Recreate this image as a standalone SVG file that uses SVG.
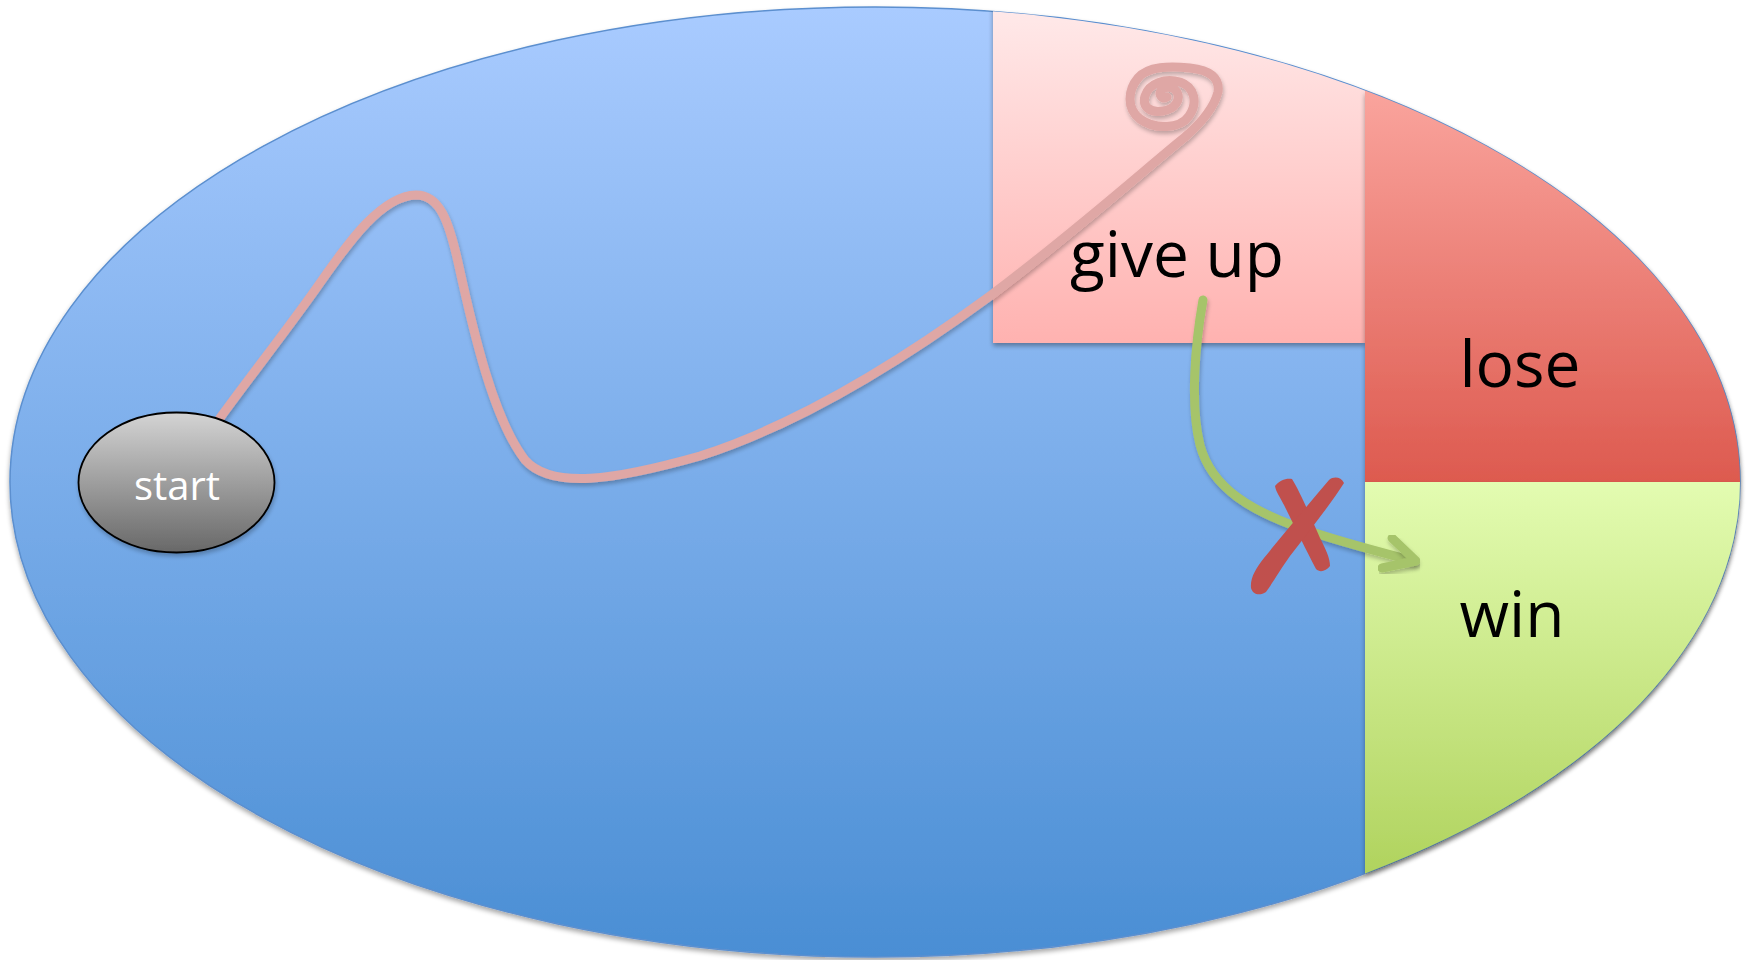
<svg xmlns="http://www.w3.org/2000/svg" width="1752" height="960" viewBox="0 0 1752 960">
  <style>
    .label { font-family: "Open Sans", "Liberation Sans", sans-serif; fill: #000000; text-anchor: middle; font-size: 64px; }
    .start-label { font-family: "Open Sans", "Liberation Sans", sans-serif; fill: #ffffff; text-anchor: middle; font-size: 40px; }
    .path-pink { fill: none; stroke: #dfa7a5; stroke-width: 9; stroke-linecap: round; stroke-linejoin: round; }
    .path-green { fill: none; stroke: #a6c46a; stroke-width: 9; stroke-linecap: round; stroke-linejoin: round; }
    .cross { fill: #c0504d; }
  </style>
  <defs>
    <linearGradient id="gBlue" x1="0" y1="0" x2="0" y2="1">
      <stop offset="0" stop-color="#a9cbff"/>
      <stop offset="1" stop-color="#4a8ed4"/>
    </linearGradient>
    <linearGradient id="gPink" gradientUnits="userSpaceOnUse" x1="0" y1="10" x2="0" y2="343">
      <stop offset="0" stop-color="#ffe9e9"/>
      <stop offset="1" stop-color="#ffb2b0"/>
    </linearGradient>
    <linearGradient id="gLose" gradientUnits="userSpaceOnUse" x1="0" y1="90" x2="0" y2="482">
      <stop offset="0" stop-color="#faa49d"/>
      <stop offset="1" stop-color="#dd5a4f"/>
    </linearGradient>
    <linearGradient id="gWin" gradientUnits="userSpaceOnUse" x1="0" y1="482" x2="0" y2="874">
      <stop offset="0" stop-color="#e3fcb1"/>
      <stop offset="1" stop-color="#b0d35e"/>
    </linearGradient>
    <linearGradient id="gStart" x1="0" y1="0" x2="0" y2="1">
      <stop offset="0" stop-color="#d4d4d4"/>
      <stop offset="1" stop-color="#686868"/>
    </linearGradient>
    <clipPath id="clipMain">
      <ellipse cx="875" cy="482" rx="865" ry="475"/>
    </clipPath>
    <filter id="shadow" x="-5%" y="-5%" width="110%" height="115%">
      <feGaussianBlur in="SourceAlpha" stdDeviation="2.5"/>
      <feOffset dx="0" dy="3" result="b"/>
      <feComponentTransfer in="b" result="s">
        <feFuncA type="linear" slope="0.35"/>
      </feComponentTransfer>
      <feMerge>
        <feMergeNode in="s"/>
        <feMergeNode in="SourceGraphic"/>
      </feMerge>
    </filter>
    <filter id="softShadow" x="-10%" y="-10%" width="120%" height="130%">
      <feGaussianBlur in="SourceAlpha" stdDeviation="2"/>
      <feOffset dx="1" dy="3" result="b"/>
      <feComponentTransfer in="b" result="s">
        <feFuncA type="linear" slope="0.25"/>
      </feComponentTransfer>
      <feMerge>
        <feMergeNode in="s"/>
        <feMergeNode in="SourceGraphic"/>
      </feMerge>
    </filter>
  </defs>

  <g id="region-main">
    <ellipse cx="875" cy="482" rx="865" ry="475" fill="url(#gBlue)" stroke="#5b8fcf" stroke-width="1.5" filter="url(#shadow)"/>
  </g>

  <g id="region-giveup" clip-path="url(#clipMain)">
    <rect x="993" y="0" width="372" height="343" fill="url(#gPink)" filter="url(#shadow)"/>
  </g>

  <g id="region-lose">
    <path d="M1365,482 L1365,90.6 A865,475 0 0 1 1740,482 Z" fill="url(#gLose)" filter="url(#shadow)"/>
  </g>

  <g id="region-win">
    <path d="M1365,482 L1740,482 A865,475 0 0 1 1365,873.4 Z" fill="url(#gWin)" filter="url(#shadow)"/>
  </g>

  <g id="connectors">
    <path class="path-pink" filter="url(#softShadow)" d="M220,418 C255,370 290,326 320,283 C350,240 382,196 416,195 C440,195 449,222 458,262 C474,335 494,420 525,460 C552,490 615,480 700,456 C800,424 900,362 990,296 C1080,228 1150,165 1185,137 C1200,124 1214,108 1218,92 C1220,78 1210,70 1190,68 C1170,66 1148,66 1138,78 C1128,90 1126,108 1140,119 C1155,130 1180,129 1189,116 C1198,103 1195,87 1180,82 C1165,78 1149,83 1145,96 C1142,107 1150,113 1163,111 C1175,109 1181,100 1177,92 C1173,85 1160,86 1160,94 C1161,98 1164,99 1167,97"/>
    <path class="path-green" filter="url(#softShadow)" d="M1203,300 C1195,345 1190,405 1200,445 C1212,490 1255,512 1300,528 C1340,542 1380,552 1414,561"/>
    <path class="path-green" filter="url(#softShadow)" d="M1392,538 L1416,561 L1382,568"/>
  </g>

  <g id="cross-mark">
    <path class="cross" d="M1275,486 C1280,480 1286,478 1292,479 C1300,492 1310,515 1320,538 C1326,550 1330,558 1330,566 C1326,571 1320,573 1316,569 C1306,550 1294,525 1284,505 C1280,497 1276,492 1275,486 Z"/>
    <path class="cross" d="M1329,480 C1334,476 1341,477 1344,483 C1330,505 1310,530 1290,556 C1280,570 1272,584 1266,592 C1260,596 1253,595 1251,588 C1250,578 1256,568 1264,558 C1285,532 1308,505 1329,480 Z"/>
  </g>

  <g id="node-start">
    <ellipse cx="176.5" cy="482.5" rx="98" ry="70" fill="url(#gStart)" stroke="#000000" stroke-width="1.8" filter="url(#softShadow)"/>
    <text class="start-label" x="177" y="500">start</text>
  </g>

  <g id="labels">
    <text class="label" x="1177" y="277">give up</text>
    <text class="label" x="1520" y="387">lose</text>
    <text class="label" x="1512" y="637">win</text>
  </g>
</svg>
